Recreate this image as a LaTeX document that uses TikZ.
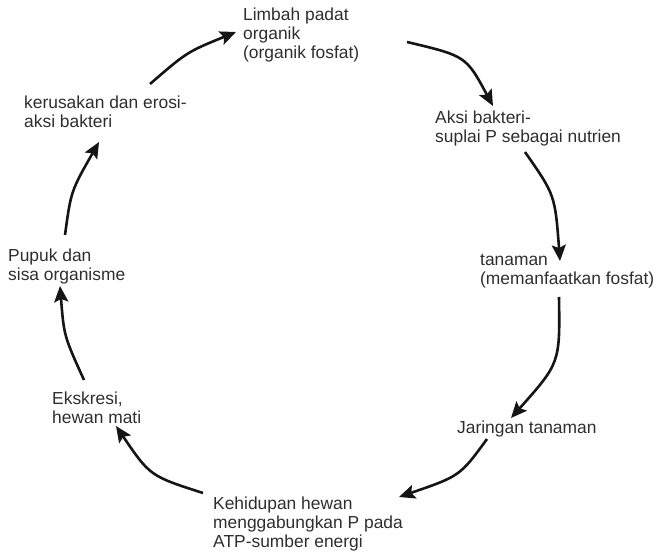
\documentclass[tikz,border=0pt]{standalone}
\usepackage{fontspec}
\setmainfont{Liberation Sans}
\usetikzlibrary{arrows.meta}
\definecolor{txt}{HTML}{2E2E2E}
\definecolor{arr}{HTML}{151515}
\begin{document}
\begin{tikzpicture}[x=1pt,y=-1pt,
  lbl/.style={anchor=base west,inner sep=0pt,text=txt,font=\fontsize{17.4}{19}\selectfont},
  cyc/.style={draw=arr,line width=2.6pt,-{Stealth[length=16pt,width=14pt,inset=3pt]}}]
\useasboundingbox (0,0) rectangle (659,553);
\node[lbl] (limbah) at (243,21) {\begin{tabular}[t]{@{}l@{}}Limbah padat\\organik\\(organik fosfat)\end{tabular}};
\node[lbl] (aksi) at (435,124) {\begin{tabular}[t]{@{}l@{}}Aksi bakteri-\\suplai P sebagai nutrien\end{tabular}};
\node[lbl] (tanaman) at (480,266) {\begin{tabular}[t]{@{}l@{}}tanaman\\(memanfaatkan fosfat)\end{tabular}};
\node[lbl] (jaringan) at (457,433) {Jaringan tanaman};
\node[lbl] (hewan) at (213,509) {\begin{tabular}[t]{@{}l@{}}Kehidupan hewan\\menggabungkan P pada\\ATP-sumber energi\end{tabular}};
\node[lbl] (ekskresi) at (52,404) {\begin{tabular}[t]{@{}l@{}}Ekskresi,\\hewan mati\end{tabular}};
\node[lbl] (pupuk) at (8,262) {\begin{tabular}[t]{@{}l@{}}Pupuk dan\\sisa organisme\end{tabular}};
\node[lbl] (kerusakan) at (24,109) {\begin{tabular}[t]{@{}l@{}}kerusakan dan erosi-\\aksi bakteri\end{tabular}};
% connector end points
\coordinate (a1) at (150,84);  \coordinate (b1) at (236,32);
\coordinate (a2) at (407,42);  \coordinate (b2) at (493,106);
\coordinate (a3) at (525,152); \coordinate (b3) at (560,261);
\coordinate (a4) at (559,297); \coordinate (b4) at (511,418);
\coordinate (a5) at (487,439); \coordinate (b5) at (399,497);
\coordinate (a6) at (203,493); \coordinate (b6) at (116,426);
\coordinate (a7) at (84,380);  \coordinate (b7) at (60,286);
\coordinate (a8) at (65,235);  \coordinate (b8) at (99,142);
\draw[cyc] (a1) .. controls (187,52) .. (b1);
\draw[cyc] (a2) .. controls (466,56) .. (b2);
\draw[cyc] (a3) .. controls (555,195) .. (b3);
\draw[cyc] (a4) .. controls (560,363) .. (b4);
\draw[cyc] (a5) .. controls (460,476) .. (b5);
\draw[cyc] (a6) .. controls (150,476) .. (b6);
\draw[cyc] (a7) .. controls (64,336) .. (b7);
\draw[cyc] (a8) .. controls (71,191) .. (b8);
\end{tikzpicture}
\end{document}
